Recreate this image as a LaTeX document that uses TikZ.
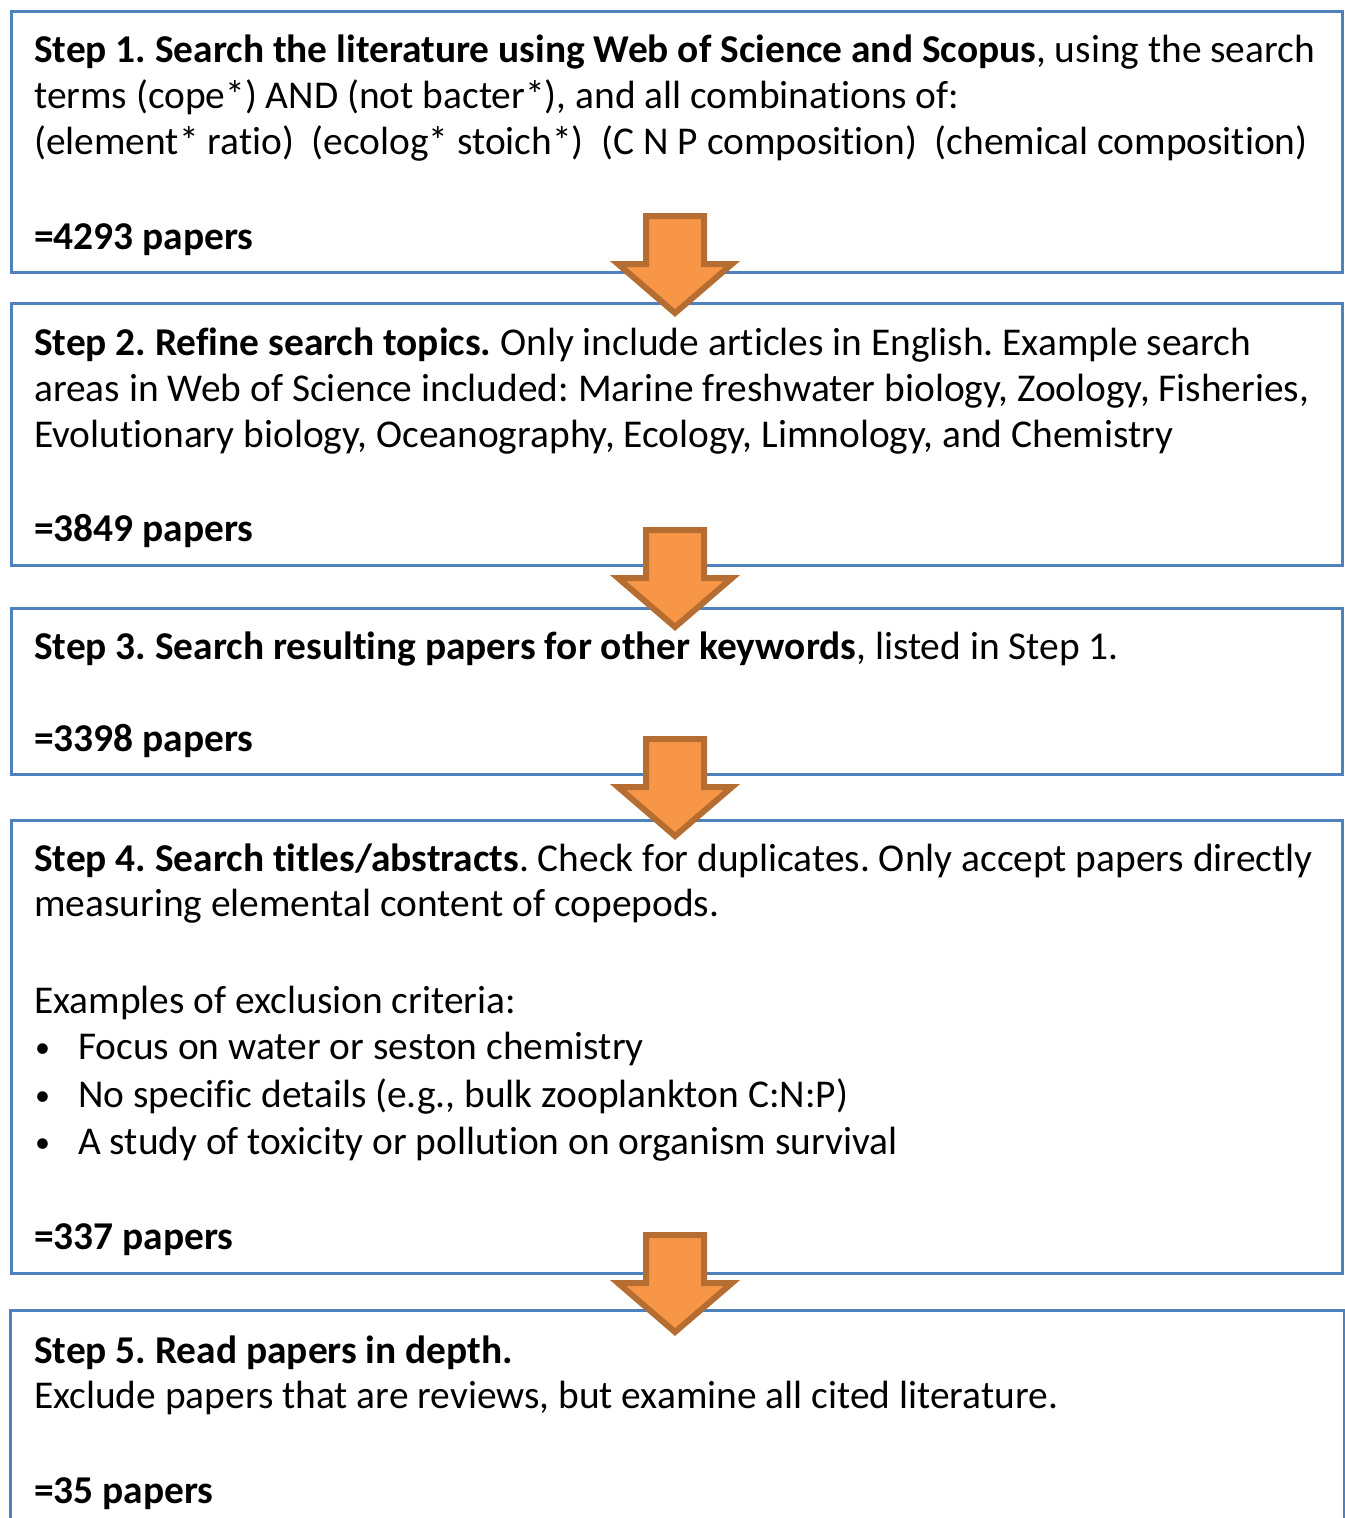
\documentclass[tikz,border=0pt]{standalone}
\usepackage{fontspec}
\setmainfont{Carlito}[Ligatures=NoCommon]
\frenchspacing
\definecolor{boxblue}{HTML}{4F81BD}
\definecolor{arrfill}{HTML}{F79646}
\definecolor{arrline}{HTML}{B66D31}
\begin{document}
\begin{tikzpicture}[x=1pt,y=-1pt,
  stepbox/.style={draw=boxblue,line width=3pt,rectangle,inner sep=0pt,anchor=north west,minimum width=1331pt},
  txt/.style={anchor=base west,inner sep=0pt,font=\fontsize{39.4}{46}\selectfont},
  bul/.style={anchor=base west,inner sep=0pt,font=\fontsize{30}{46}\selectfont},
  arrowline/.style={draw=arrline,fill=arrfill,line width=6pt,line join=miter},
  downarr/.pic={\path[arrowline] (-29,0) -- (29,0) -- (29,48) -- (57,48) -- (0,97) -- (-57,48) -- (-29,48) -- cycle;}
]
\useasboundingbox (0,0) rectangle (1344,1518);
% boxes
\node[stepbox,minimum height=261pt] (b1) at (10,10) {};
\node[stepbox,minimum height=262pt] (b2) at (10,302) {};
\node[stepbox,minimum height=166pt] (b3) at (10,607) {};
\node[stepbox,minimum height=453pt] (b4) at (10,819) {};
\node[stepbox,draw=none,minimum height=208pt] (b5) at (10,1310) {};
\draw[boxblue,line width=3pt] (b5.south west) -- (b5.north west) -- (b5.north east) -- (b5.south east);
% arrows
\pic at (675,216) {downarr};
\pic at (675,530) {downarr};
\pic at (675,739) {downarr};
\pic at (675,1235) {downarr};
% box 1 text
\node[txt] (t1a) at (34,62) {\textbf{Step 1. Search the literature using Web of Science and Scopus}, using the search};
\node[txt] (t1b) at (34,108) {terms (cope*) AND (not bacter*), and all combinations of:};
\node[txt] (t1c) at (34,154) {(element* ratio)~ (ecolog* stoich*)~ (C N P composition)~ (chemical composition)};
\node[txt] (t1d) at (34,249) {\textbf{=4293 papers}};
% box 2 text
\node[txt] (t2a) at (34,355) {\textbf{Step 2. Refine search topics.} Only include articles in English. Example search};
\node[txt] (t2b) at (34,401) {areas in Web of Science included: Marine freshwater biology, Zoology, Fisheries,};
\node[txt] (t2c) at (34,447) {Evolutionary biology, Oceanography, Ecology, Limnology, and Chemistry};
\node[txt] (t2d) at (34,541) {\textbf{=3849 papers}};
% box 3 text
\node[txt] (t3a) at (34,659) {\textbf{Step 3. Search resulting papers for other keywords}, listed in Step 1.};
\node[txt] (t3b) at (34,751) {\textbf{=3398 papers}};
% box 4 text
\node[txt] (t4a) at (34,871) {\textbf{Step 4. Search titles/abstracts}. Check for duplicates. Only accept papers directly};
\node[txt] (t4b) at (34,916) {measuring elemental content of copepods.};
\node[txt] (t4c) at (34,1013) {Examples of exclusion criteria:};
\node[bul] (t4d) at (35,1057) {•};
\node[txt] (t4e) at (78,1059) {Focus on water or seston chemistry};
\node[bul] (t4f) at (35,1105) {•};
\node[txt] (t4g) at (78,1107) {No specific details (e.g., bulk zooplankton C:N:P)};
\node[bul] (t4h) at (35,1152) {•};
\node[txt] (t4i) at (78,1154) {A study of toxicity or pollution on organism survival};
\node[txt] (t4j) at (34,1249) {\textbf{=337 papers}};
% box 5 text
\node[txt] (t5a) at (34,1363) {\textbf{Step 5. Read papers in depth.}};
\node[txt] (t5b) at (34,1408) {Exclude papers that are reviews, but examine all cited literature.};
\node[txt] (t5c) at (34,1503) {\textbf{=35 papers}};
\end{tikzpicture}
\end{document}
